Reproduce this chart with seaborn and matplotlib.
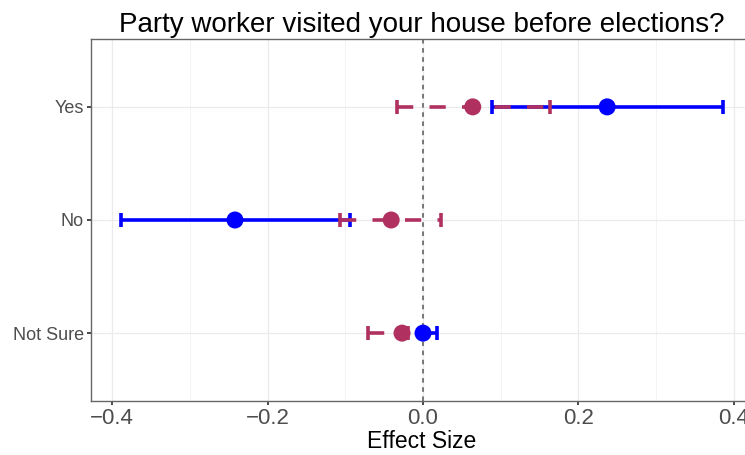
import matplotlib
matplotlib.use("Agg")
import matplotlib.pyplot as plt
import seaborn as sns
import pandas as pd
from matplotlib.ticker import MultipleLocator

# Effect estimates with 95% intervals for each response group
categories = ["Yes", "No", "Not Sure"]
blue_est = [0.237, -0.242, 0.000]
blue_lo = [0.089, -0.389, -0.002]
blue_hi = [0.386, -0.094, 0.018]
red_est = [0.064, -0.041, -0.027]
red_lo = [-0.033, -0.107, -0.071]
red_hi = [0.163, 0.023, -0.019]
x_ticks = [-0.4, -0.2, 0.0, 0.2, 0.4]

ypos = {"Yes": 3, "No": 2, "Not Sure": 1}

df = pd.DataFrame({
    "category": categories * 2,
    "est": blue_est + red_est,
    "lo": blue_lo + red_lo,
    "hi": blue_hi + red_hi,
    "model": ["blue"] * 3 + ["red"] * 3,
})
df["y"] = df["category"].map(ypos)

sns.set_theme(style="whitegrid")
plt.rcParams["font.family"] = ["Liberation Sans", "DejaVu Sans"]

fig = plt.figure(figsize=(7.45, 4.55), dpi=100)
ax = fig.add_axes([91 / 745, 1 - 401 / 455, (752 - 91) / 745, (401 - 39) / 455])

BLUE = "#0000FF"
RED = "#B03060"

ax.set_xlim(-0.4273, 0.4234)
ax.set_ylim(0.4, 3.6)

# grid
ax.xaxis.set_major_locator(MultipleLocator(0.2))
ax.xaxis.set_minor_locator(MultipleLocator(0.1))
ax.grid(which="major", axis="both", color="#EBEBEB", lw=0.9)
ax.grid(which="minor", axis="x", color="#F3F3F3", lw=0.6)
ax.set_axisbelow(True)

ax.axvline(0, color="#555555", lw=1.1, ls=(0, (3, 3)), zorder=1.5)

b = df[df.model == "blue"]
r = df[df.model == "red"]

eb1 = ax.errorbar(b["est"], b["y"], xerr=[b["est"] - b["lo"], b["hi"] - b["est"]],
                  fmt="none", ecolor=BLUE, elinewidth=2.6, capsize=5, capthick=2.6, zorder=3)
eb2 = ax.errorbar(r["est"], r["y"], xerr=[r["est"] - r["lo"], r["hi"] - r["est"]],
                  fmt="none", ecolor=RED, elinewidth=2.6, capsize=5, capthick=2.6, zorder=3.1)
eb2[2][0].set_linestyle((0, (4.5, 4.5)))

sns.scatterplot(data=r, x="est", y="y", color=RED, s=150, edgecolor="none", ax=ax, zorder=4, legend=False)
sns.scatterplot(data=b, x="est", y="y", color=BLUE, s=150, edgecolor="none", ax=ax, zorder=4.1, legend=False)

ax.set_xticks(x_ticks)
ax.set_xticklabels(["\u22120.4", "\u22120.2", "0.0", "0.2", "0.4"])
ax.set_yticks([ypos[c] for c in categories])
ax.set_yticklabels(categories)
ax.tick_params(axis="x", labelsize=16, labelcolor="#4D4D4D", length=3, color="#333333", pad=2, bottom=True)
ax.tick_params(axis="y", labelsize=13, labelcolor="#4D4D4D", length=3, color="#333333", pad=2, left=True)

for side in ["left", "bottom", "top", "right"]:
    ax.spines[side].set_visible(True)
    ax.spines[side].set_color("#666666")
    ax.spines[side].set_linewidth(1.0)

ax.set_xlabel("Effect Size", fontsize=16.5, color="black", labelpad=1)
ax.set_ylabel("")
ax.set_title("Party worker visited your house before elections?", fontsize=20, color="black", pad=5, x=0.5)

fig.savefig("out.png", dpi=100)
